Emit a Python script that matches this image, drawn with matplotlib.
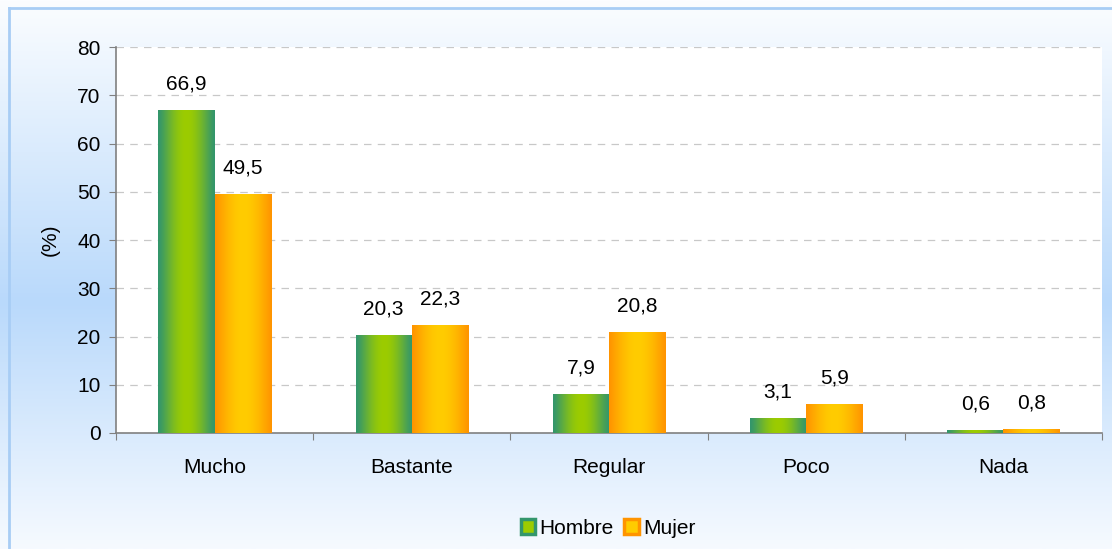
import numpy as np
import matplotlib
matplotlib.use("Agg")
import matplotlib.pyplot as plt
from matplotlib.colors import to_rgb
from matplotlib.patches import Rectangle

categories = ["Mucho", "Bastante", "Regular", "Poco", "Nada"]
hombre = [66.9, 20.3, 7.9, 3.1, 0.6]
mujer = [49.5, 22.3, 20.8, 5.9, 0.8]
series_names = ["Hombre", "Mujer"]
yticks = [0, 10, 20, 30, 40, 50, 60, 70, 80]

plt.rcParams['font.family'] = ['Liberation Sans', 'DejaVu Sans']
FS = 15

W, H = 1112, 549
fig = plt.figure(figsize=(W / 100, H / 100), dpi=100)

# background gradient
bg = fig.add_axes([0, 0, 1, 1], zorder=-10)
bg.set_axis_off()
ys = np.linspace(0, 1, 300)
top = np.array(to_rgb("#fbfdff"))
mid = np.array(to_rgb("#b9d9fb"))
bot = np.array(to_rgb("#f6faff"))
cols = []
for y in ys:
    if y < 0.55:
        t = y / 0.55
        cols.append(top * (1 - t) + mid * t)
    else:
        t = (y - 0.55) / 0.45
        cols.append(mid * (1 - t) + bot * t)
grad = np.array(cols)[:, None, :]
bg.imshow(grad, aspect='auto', extent=[0, 1, 0, 1], origin='upper')
bg.set_xlim(0, 1)
bg.set_ylim(0, 1)
bx = 8.5 / W
by = 1 - 7.5 / H
bg.plot([bx, bx], [0, by], color="#a8cdf5", lw=2)
bg.plot([bx, 1], [by, by], color="#a8cdf5", lw=2)

ax = fig.add_axes([116 / W, 1 - 433 / H, (1102 - 116) / W, (433 - 47) / H])
ax.set_facecolor("white")

x = np.arange(len(categories))
bw = 0.285
b1 = ax.bar(x - bw / 2, hombre, width=bw, color='none', edgecolor='none', zorder=3)
b2 = ax.bar(x + bw / 2, mujer, width=bw, color='none', edgecolor='none', zorder=3)

def grad_img(edge, center, p):
    e = np.array(to_rgb(edge))
    c = np.array(to_rgb(center))
    t = np.linspace(0, 1, 100)
    w = np.sin(np.pi * t) ** p
    return (e[None, :] * (1 - w[:, None]) + c[None, :] * w[:, None])[None, :, :]

g_img = grad_img("#33966c", "#9ccc00", 1.3)
o_img = grad_img("#ff9400", "#ffcc00", 1.1)

for rects, img in ((b1, g_img), (b2, o_img)):
    for r in rects:
        x0, y0 = r.get_x(), r.get_y()
        ax.imshow(img, aspect='auto', extent=[x0, x0 + r.get_width(), y0, y0 + r.get_height()],
                  zorder=3, interpolation='bilinear')

for rects, vals in ((b1, hombre), (b2, mujer)):
    for r, v in zip(rects, vals):
        ax.annotate(f"{v:.1f}".replace(".", ","), (r.get_x() + r.get_width() / 2, r.get_height()),
                    xytext=(0, 19), textcoords='offset points', ha='center', va='center',
                    fontsize=FS, color='black')

ax.set_xlim(-0.5, len(categories) - 0.5)
ax.set_ylim(0, 80)
ax.set_yticks(yticks)
ax.yaxis.grid(True, linestyle=(0, (6, 5)), color="#c8c8c8", lw=0.9, zorder=0)
ax.set_axisbelow(True)
ax.set_xticks(np.arange(-0.5, len(categories), 1.0))
ax.set_xticklabels([])
ax.set_xticks(x, minor=True)
ax.set_xticklabels(categories, minor=True, fontsize=FS)
ax.tick_params(axis='x', which='minor', length=0, pad=18)
ax.tick_params(axis='x', which='major', length=5, direction='out', color="#808080")
ax.tick_params(axis='y', length=5, direction='out', color="#808080", labelsize=FS, pad=6)
for s in ("top", "right"):
    ax.spines[s].set_visible(False)
ax.spines["left"].set_color("#808080")
ax.spines["bottom"].set_color("#808080")
ax.spines["left"].set_linewidth(1.2)
ax.spines["bottom"].set_linewidth(1.2)

fig.text(50 / W, 1 - 240 / H, "(%)", rotation=90, ha='center', va='center', fontsize=FS)

handles = [Rectangle((0, 0), 1, 1, facecolor="#9ccc00", edgecolor="#33966c", lw=2.5),
           Rectangle((0, 0), 1, 1, facecolor="#ffcc00", edgecolor="#ff9400", lw=2.5)]
fig.legend(handles, series_names, loc='center', bbox_to_anchor=(608 / W, 1 - 528 / H),
           ncol=2, frameon=False, fontsize=FS, handlelength=0.7, handleheight=0.7,
           handletextpad=0.2, columnspacing=0.5)

fig.savefig("out.png", dpi=100)
